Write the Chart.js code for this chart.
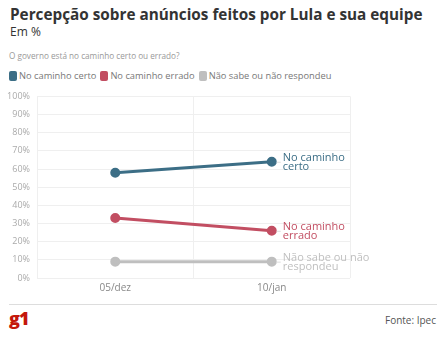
<!DOCTYPE html>
<html>
<head>
<meta charset="utf-8">
<script src="https://cdn.jsdelivr.net/npm/chart.js@4"></script>
<style>
  html, body { margin:0; padding:0; background:#fff; }
  body { width:445px; height:337px; position:relative; overflow:hidden; font-family:"Open Sans", sans-serif; }
  .abs { position:absolute; white-space:nowrap; }
  #title { left:10px; top:4px; font-size:15.3px; font-weight:700; color:#333; }
  #unit { left:10px; top:23px; font-size:12px; color:#333; }
  #sub { left:9px; top:50px; font-size:8.2px; color:#999; }
  #legend { left:9px; top:69px; font-size:9.3px; color:#777; display:flex; }
  #legend span.item { display:flex; align-items:center; margin-right:4px; }
  #legend i { display:inline-block; width:8px; height:10px; border-radius:2px; margin-right:2px; }
  #chartBox { left:0; top:84px; width:445px; height:214px; }
  #rule { left:9px; top:304px; width:428px; height:1px; background:#ddd; }
  #logo { left:9px; top:306px; font-size:18px; font-weight:800; color:#c4170c; letter-spacing:-1px; }
  #src { right:9px; top:313px; font-size:10px; color:#555; }
</style>
</head>
<body>
<div id="title" class="abs">Percepção sobre anúncios feitos por Lula e sua equipe</div>
<div id="unit" class="abs">Em %</div>
<div id="sub" class="abs">O governo está no caminho certo ou errado?</div>
<div id="legend" class="abs"></div>
<div id="chartBox" class="abs"><canvas id="c"></canvas></div>
<div id="rule" class="abs"></div>
<div id="logo" class="abs">g1</div>
<div id="src" class="abs">Fonte: Ipec</div>
<script>
const categories = ["05/dez", "10/jan"];
const seriesNames = ["No caminho certo", "No caminho errado", "Não sabe ou não respondeu"];
const certo = [58, 64];
const errado = [33, 26];
const naoSabe = [9, 9];
const endLabels = [["No caminho", "certo"], ["No caminho", "errado"], ["Não sabe ou não", "respondeu"]];
const yTicks = [0, 10, 20, 30, 40, 50, 60, 70, 80, 90, 100];
const colors = ["#3c6e86", "#c24e62", "#bfbfbf"];

const leg = document.getElementById('legend');
seriesNames.forEach((n, i) => {
  const s = document.createElement('span');
  s.className = 'item';
  s.innerHTML = '<i style="background:' + colors[i] + '"></i>' + n;
  leg.appendChild(s);
});

const endLabelPlugin = {
  id: 'endLabels',
  afterDatasetsDraw(chart) {
    const ctx = chart.ctx;
    ctx.save();
    chart.data.datasets.forEach((ds, i) => {
      const meta = chart.getDatasetMeta(i);
      const pt = meta.data[meta.data.length - 1];
      ctx.strokeStyle = '#ddd';
      ctx.lineWidth = 1;
      ctx.beginPath();
      ctx.moveTo(pt.x + 5, pt.y + 0.5);
      ctx.lineTo(pt.x + 9, pt.y + 0.5);
      ctx.stroke();
      ctx.fillStyle = colors[i];
      ctx.font = '11px "Open Sans"';
      ctx.textBaseline = 'middle';
      ctx.textAlign = 'left';
      const lines = endLabels[i];
      ctx.fillText(lines[0], pt.x + 11, pt.y - 4);
      ctx.fillText(lines[1], pt.x + 11, pt.y + 5);
    });
    ctx.restore();
  }
};

const data = [certo, errado, naoSabe];
new Chart(document.getElementById('c'), {
  type: 'line',
  data: {
    labels: categories,
    datasets: seriesNames.map((n, i) => ({
      label: n,
      data: data[i],
      borderColor: colors[i],
      backgroundColor: colors[i],
      borderWidth: 3,
      pointRadius: 3.5,
      pointHoverRadius: 3.5,
      tension: 0
    }))
  },
  options: {
    responsive: true,
    maintainAspectRatio: false,
    animation: false,
    layout: { padding: { top: 10, right: 95, left: 0, bottom: 0 } },
    plugins: { legend: { display: false }, tooltip: { enabled: false } },
    scales: {
      x: {
        offset: true,
        grid: { offset: true, color: '#efefef', drawTicks: false },
        border: { display: false },
        ticks: { color: '#888', font: { family: 'Open Sans', size: 10 }, padding: 4 }
      },
      y: {
        min: 0, max: 100,
        afterBuildTicks(s) { s.ticks = yTicks.map(v => ({ value: v })); },
        afterFit(s) { s.width = 37; },
        grid: { color: '#efefef', drawTicks: false },
        border: { display: true, color: '#efefef' },
        ticks: { color: '#aaa', font: { family: 'Open Sans', size: 9 }, padding: 7, callback: v => v + '%' }
      }
    }
  },
  plugins: [endLabelPlugin]
});
</script>
</body>
</html>
